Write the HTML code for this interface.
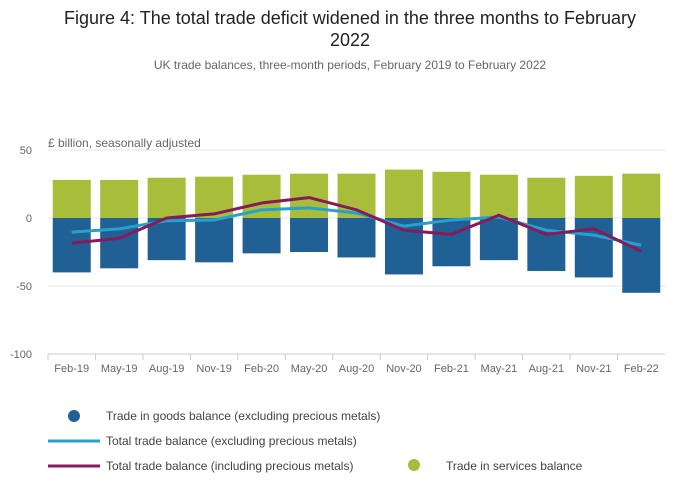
<!DOCTYPE html>
<html><head><meta charset="utf-8"><style>
body{margin:0;background:#fff;font-family:"Liberation Sans",sans-serif;}
#wrap{position:relative;width:700px;height:502px;overflow:hidden;}
</style></head><body>
<div id="wrap">
<svg id="chart" width="700" height="502">
<text x="350" y="24" text-anchor="middle" font-size="18" fill="#222">Figure 4: The total trade deficit widened in the three months to February</text>
<text x="350" y="46" text-anchor="middle" font-size="18" fill="#222">2022</text>
<text x="350" y="69" text-anchor="middle" font-size="12" fill="#666">UK trade balances, three-month periods, February 2019 to February 2022</text>
<text x="48" y="147" font-size="12" fill="#666">£ billion, seasonally adjusted</text>
<g id="grid"></g><g id="bars"></g><g id="lines"></g><g id="axes"></g>
<g>
<circle cx="74" cy="416" r="6" fill="#206095"/>
<text x="106" y="420" font-size="12" fill="#444">Trade in goods balance (excluding precious metals)</text>
<line x1="48" y1="441" x2="100" y2="441" stroke="#27a0cc" stroke-width="3"/>
<text x="106" y="445" font-size="12" fill="#444">Total trade balance (excluding precious metals)</text>
<line x1="48" y1="466" x2="100" y2="466" stroke="#871a5b" stroke-width="3"/>
<text x="106" y="470" font-size="12" fill="#444">Total trade balance (including precious metals)</text>
<circle cx="414" cy="465" r="6" fill="#a8bd3a"/>
<text x="446" y="470" font-size="12" fill="#444">Trade in services balance</text>
</g>
</svg></div>
<script>
const categories=["Feb-19","May-19","Aug-19","Nov-19","Feb-20","May-20","Aug-20","Nov-20","Feb-21","May-21","Aug-21","Nov-21","Feb-22"];
const servicesValues=[28,28,29.6,30.4,31.8,32.6,32.6,35.6,34,31.8,29.6,31,32.6];
const goodsValues=[-40,-37,-31,-32.6,-26,-25,-29,-41.5,-35.5,-31,-39,-43.7,-55];
const totalExclValues=[-10.4,-8,-2,-1.5,6,7.4,3.7,-6,-1.5,0.7,-9,-12.6,-20];
const totalInclValues=[-18.5,-15,0,3,11,15,6,-9,-12,2,-12,-8,-24.5];
const yTicks=[50,0,-50,-100];
const NS="http://www.w3.org/2000/svg";
const X0=48,X1=665,Y50=150,Y0=218;
const step=(X1-X0)/categories.length;
function y(v){return Y0-(v)*(Y0-Y50)/50;}
function xc(i){return X0+step*(i+0.5);}
function mk(tag,attrs,parent){const e=document.createElementNS(NS,tag);for(const k in attrs)e.setAttribute(k,attrs[k]);document.getElementById(parent).appendChild(e);return e;}
yTicks.forEach(t=>{
 const l=mk('line',{x1:X0,x2:X1,y1:y(t),y2:y(t),stroke:t===-100?'#ccc':'#e6e6e6'},'grid');
 
 
 const tx=mk('text',{x:X0-16,y:y(t)+4,'text-anchor':'end','font-size':11,fill:'#666'},'axes');tx.textContent=t;
 
 
});
const bw=38;
categories.forEach((c,i)=>{
 const s=mk('rect',{x:xc(i)-bw/2,y:y(servicesValues[i]),width:bw,height:y(0)-y(servicesValues[i]),fill:'#a8bd3a'},'bars');
 
 
 const g=mk('rect',{x:xc(i)-bw/2,y:y(0),width:bw,height:y(goodsValues[i])-y(0),fill:'#206095'},'bars');
 
 
 const tk=mk('line',{x1:X0+step*i,x2:X0+step*i,y1:y(-100),y2:y(-100)+6,stroke:'#ccc'},'axes');
 
 
 const t=mk('text',{x:xc(i),y:372,'text-anchor':'middle','font-size':11,fill:'#666'},'axes');t.textContent=c;
 
 
});
function line(vals,color,name){
 const p=mk('polyline',{points:vals.map((v,i)=>xc(i)+','+y(v)).join(' '),fill:'none',stroke:color,'stroke-width':3,'stroke-linejoin':'round'},'lines');
 
 
}
line(totalExclValues,'#27a0cc','line-total-excl-precious-metals');
line(totalInclValues,'#871a5b','line-total-incl-precious-metals');
</script>
</body></html>
